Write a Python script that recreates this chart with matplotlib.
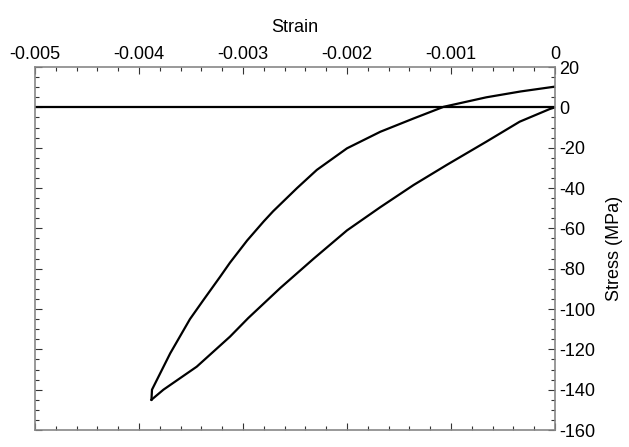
import matplotlib
matplotlib.use("Agg")
import matplotlib.pyplot as plt
from matplotlib.ticker import MultipleLocator, FuncFormatter

plt.rcParams['font.family'] = ['Liberation Sans', 'DejaVu Sans']
plt.rcParams['axes.unicode_minus'] = False

# loading branch (0,0) -> peak compression
strain_load = [0.0, -0.00005, -0.00034, -0.00066, -0.00104, -0.00136, -0.00168, -0.00200,
               -0.00232, -0.00264, -0.00295, -0.003125, -0.003445, -0.003765, -0.00388]
stress_load = [0, -0.8, -7.1, -17, -28.5, -38.5, -49.5, -61,
               -75, -89.5, -104.5, -113.7, -128.6, -140, -145]

# unloading branch peak -> (0, 10)
strain_unload = [-0.00388, -0.003875, -0.00370, -0.00351, -0.00338, -0.00322, -0.003125, -0.00296,
                 -0.00280, -0.00271, -0.00248, -0.00229, -0.00200, -0.00168, -0.00136, -0.00107,
                 -0.00066, -0.00033, 0.0]
stress_unload = [-145, -140, -122, -105, -95.5, -84, -77, -66,
                 -56.5, -51.5, -40, -31, -20.3, -12.1, -5.5, 0.3,
                 5.0, 7.9, 10.3]

fig = plt.figure(figsize=(6.29, 4.47), dpi=100)
ax = fig.add_axes([0.0556, 0.038, 0.8268, 0.812])

ax.axhline(0, color='black', lw=1.6)
ax.plot(strain_load, stress_load, color='black', lw=1.6)
ax.plot(strain_unload, stress_unload, color='black', lw=1.6)

ax.set_xlim(-0.005, 0)
ax.set_ylim(-160, 20)

ax.xaxis.set_major_locator(MultipleLocator(0.001))
ax.xaxis.set_minor_locator(MultipleLocator(0.0002))
ax.yaxis.set_major_locator(MultipleLocator(20))
ax.yaxis.set_minor_locator(MultipleLocator(5))
ax.xaxis.set_major_formatter(FuncFormatter(lambda v, p: "0" if abs(v) < 1e-9 else f"{v:.3f}"))

ax.tick_params(which='both', direction='in', top=True, bottom=True, left=True, right=True,
               labeltop=True, labelbottom=False, labelright=True, labelleft=False,
               labelsize=13, color='#333333', width=0.8, pad=3)
ax.tick_params(which='major', length=5)
ax.tick_params(which='minor', length=3)

for s in ax.spines.values():
    s.set_color('#888888')
    s.set_linewidth(1.2)

ax.xaxis.set_label_position('top')
ax.yaxis.set_label_position('right')
ax.set_xlabel("Strain", fontsize=13, labelpad=10)
ax.set_ylabel("Stress (MPa)", fontsize=13, labelpad=8)

fig.savefig("out.png", dpi=100)
